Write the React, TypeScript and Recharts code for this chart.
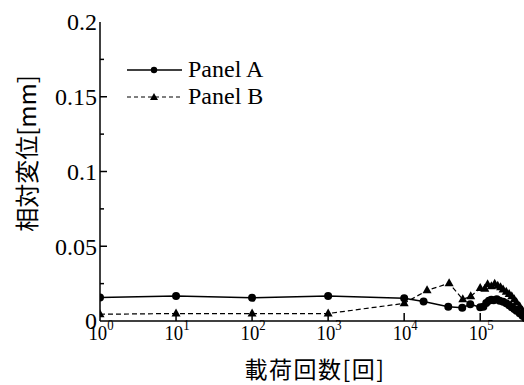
import { ComposedChart, Legend, Line, XAxis, YAxis } from "recharts";

const SERIF = "Liberation Serif, DejaVu Serif, Times New Roman, serif";
const CJK = "Noto Sans CJK JP, sans-serif";
const INK = "#000";

// load cycles (log axis) and relative displacement [mm]
const X_TICKS = [1, 10, 100, 1000, 10000, 100000];
const Y_TICKS = [0, 0.025, 0.05, 0.075, 0.1, 0.125, 0.15, 0.175, 0.2];
const Y_RIGHT_TICKS = [0.05, 0.1, 0.15];

const cyclesA = [
  1, 10, 100, 1000, 10000, 18000, 38000, 58000, 74000, 100000, 110000, 120000, 130000,
  140000, 150000, 165000, 180000, 200000, 220000, 240000, 260000, 280000, 300000, 330000,
  360000, 390000,
];
const dispA = [
  0.0157, 0.0167, 0.0155, 0.0167, 0.0152, 0.013, 0.0096, 0.0088, 0.0112, 0.0092, 0.0095,
  0.012, 0.0135, 0.0142, 0.0138, 0.0145, 0.0135, 0.0128, 0.0118, 0.0105, 0.0092, 0.008,
  0.0068, 0.0052, 0.0035, 0.002,
];

const cyclesB = [
  1, 10, 100, 1000, 10000, 20000, 39000, 59000, 75000, 100000, 115000, 125000, 140000,
  155000, 170000, 185000, 200000, 220000, 240000, 260000, 280000, 300000, 330000, 360000,
  390000,
];
const dispB = [
  0.0045, 0.005, 0.005, 0.005, 0.0118, 0.0205, 0.0252, 0.0145, 0.0165, 0.022, 0.0215,
  0.0245, 0.0232, 0.025, 0.0235, 0.0225, 0.021, 0.0195, 0.018, 0.0165, 0.0145, 0.0125,
  0.0098, 0.007, 0.004,
];

const panelA = cyclesA.map((n, i) => ({ n, v: dispA[i] }));
const panelB = cyclesB.map((n, i) => ({ n, v: dispB[i] }));

function CircleDot(p: any) {
  if (p.cx == null || p.cy == null) return null;
  return <circle key={p.key} cx={p.cx} cy={p.cy} r={4} fill={INK} />;
}

function TriangleDot(p: any) {
  if (p.cx == null || p.cy == null) return null;
  const { cx, cy } = p;
  return (
    <polygon
      key={p.key}
      points={`${cx},${cy - 5} ${cx + 4.5},${cy + 3} ${cx - 4.5},${cy + 3}`}
      fill={INK}
    />
  );
}

function BottomTick({ x, y, payload }: any) {
  const v = payload.value as number;
  const exp = Math.round(Math.log10(v));
  return (
    <g>
      {v > 1 && <line x1={x} x2={x} y1={y} y2={y - 8} stroke={INK} strokeWidth={1.5} />}
      <text
        transform={`translate(${x + 1} ${y + 19}) scale(0.85 1)`}
        textAnchor="middle"
        style={{ fontFamily: SERIF }}
        fontSize={22}
        fill={INK}
      >
        <tspan>10</tspan>
        <tspan dy={-10} fontSize={15}>
          {exp}
        </tspan>
      </text>
    </g>
  );
}

function TopTick({ x, y, payload }: any) {
  if (payload.value <= 1) return <g />;
  return <line x1={x} x2={x} y1={y} y2={y + 9} stroke={INK} strokeWidth={1.5} />;
}

function LeftTick({ x, y, payload }: any) {
  const v = payload.value as number;
  const major = Math.round(v * 1000) % 50 === 0;
  return (
    <g>
      {v > 0 && v < 0.2 && (
        <line x1={x} x2={x + (major ? 7 : 4)} y1={y} y2={y} stroke={INK} strokeWidth={1.5} />
      )}
      {major && (
        <text
          x={x - 3}
          y={y}
          dy="0.35em"
          textAnchor="end"
          style={{ fontFamily: SERIF }}
          fontSize={24}
          fill={INK}
        >
          {String(v)}
        </text>
      )}
    </g>
  );
}

function RightTick({ x, y }: any) {
  return <line x1={x - 7} x2={x} y1={y} y2={y} stroke={INK} strokeWidth={1.5} />;
}

function YTitle({ viewBox }: any) {
  const cx = viewBox.x + 25;
  const cy = viewBox.y + viewBox.height / 2 - 18;
  return (
    <text
      transform={`translate(${cx} ${cy}) rotate(-90)`}
      textAnchor="middle"
      dominantBaseline="central"
      style={{ fontFamily: CJK }}
      fontSize={24}
      fill={INK}
    >
      相対変位[mm]
    </text>
  );
}

function XTitle({ viewBox }: any) {
  return (
    <text
      x={viewBox.x + viewBox.width / 2 + 2}
      y={viewBox.y + 47}
      textAnchor="middle"
      dominantBaseline="central"
      style={{ fontFamily: CJK }}
      fontSize={23}
      letterSpacing={1.5}
      fill={INK}
    >
      載荷回数[回]
    </text>
  );
}

function LegendBox() {
  const row = { display: "flex", alignItems: "center", height: 27 } as const;
  const label = { fontFamily: SERIF, fontSize: 24, color: INK, marginLeft: 6, lineHeight: "27px" };
  return (
    <div>
      <div style={row}>
        <svg width={55} height={14}>
          <line x1={0} x2={55} y1={7} y2={7} stroke={INK} strokeWidth={1.5} />
          <circle cx={27} cy={7} r={3.2} fill={INK} />
        </svg>
        <span style={label}>Panel A</span>
      </div>
      <div style={row}>
        <svg width={55} height={14}>
          <line x1={0} x2={55} y1={7} y2={7} stroke={INK} strokeWidth={1.2} strokeDasharray="4 3" />
          <polygon points="27,3 31,10 23,10" fill={INK} />
        </svg>
        <span style={label}>Panel B</span>
      </div>
    </div>
  );
}

export default function App() {
  return (
    <div
      style={{
        position: "absolute",
        left: 0,
        top: 0,
        width: 524,
        height: 385,
        overflow: "hidden",
        background: "#fff",
      }}
    >
      <ComposedChart width={540} height={385} margin={{ top: 22, right: 0, left: 0, bottom: 0 }}>
        <XAxis
          dataKey="n"
          type="number"
          scale="log"
          domain={[1, 400000]}
          allowDataOverflow
          ticks={X_TICKS}
          interval={0}
          tickSize={0}
          tickMargin={0}
          tickLine={false}
          axisLine={{ stroke: INK, strokeWidth: 1.5 }}
          tick={(p: any) => <BottomTick {...p} />}
          height={64}
          label={{ content: (p: any) => <XTitle {...p} /> }}
        />
        <XAxis
          xAxisId="top"
          orientation="top"
          type="number"
          scale="log"
          domain={[1, 400000]}
          allowDataOverflow
          ticks={X_TICKS}
          interval={0}
          tickSize={0}
          tickMargin={0}
          tickLine={false}
          axisLine={{ stroke: INK, strokeWidth: 1.5 }}
          tick={(p: any) => <TopTick {...p} />}
          height={0}
        />
        <YAxis
          type="number"
          domain={[0, 0.2]}
          ticks={Y_TICKS}
          interval={0}
          tickSize={0}
          tickMargin={0}
          tickLine={false}
          axisLine={{ stroke: INK, strokeWidth: 1.5 }}
          tick={(p: any) => <LeftTick {...p} />}
          width={100}
          label={{ content: (p: any) => <YTitle {...p} /> }}
        />
        <YAxis
          yAxisId="r"
          orientation="right"
          type="number"
          domain={[0, 0.2]}
          ticks={Y_RIGHT_TICKS}
          interval={0}
          tickSize={0}
          tickMargin={0}
          tickLine={false}
          axisLine={{ stroke: INK, strokeWidth: 1.5 }}
          tick={(p: any) => <RightTick {...p} />}
          width={14}
        />
        <Legend
          layout="vertical"
          align="center"
          verticalAlign="middle"
          wrapperStyle={{ left: 127, top: 56, width: "auto" }}
          content={() => <LegendBox />}
        />
        <Line
          data={panelA}
          dataKey="v"
          name="Panel A"
          stroke={INK}
          strokeWidth={1.5}
          dot={CircleDot}
          activeDot={false}
          isAnimationActive={false}
        />
        <Line
          data={panelB}
          dataKey="v"
          name="Panel B"
          stroke={INK}
          strokeWidth={1.2}
          strokeDasharray="5 3"
          dot={TriangleDot}
          activeDot={false}
          isAnimationActive={false}
        />
      </ComposedChart>
    </div>
  );
}
